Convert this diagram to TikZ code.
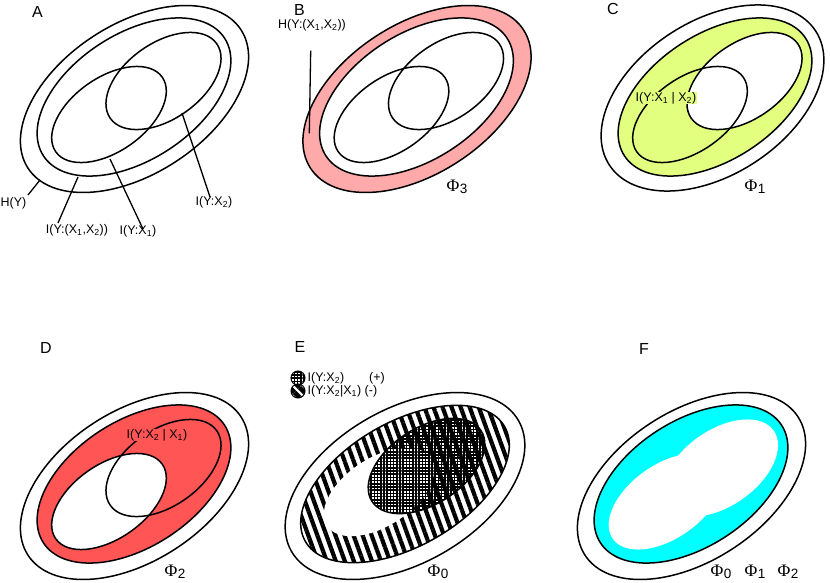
\documentclass[tikz,border=0pt]{standalone}
\usepackage{fontspec}
\setmainfont{Liberation Sans}
\newfontfamily\phifont{Liberation Serif}
\usetikzlibrary{patterns.meta}
\definecolor{pinkB}{RGB}{255,170,170}
\definecolor{yelC}{RGB}{226,255,128}
\definecolor{redD}{RGB}{255,85,85}
\definecolor{cyanF}{RGB}{0,255,255}
\newcommand\phil[1]{{\phifont\fontsize{17.5}{17.5}\selectfont Φ}\kern0.3pt\raisebox{-2.5pt}{\fontsize{13.5}{13.5}\selectfont #1}}
\newcommand\sbs[1]{\textsubscript{#1}}
\newcommand\ellO[1]{\path[#1,shift={(134.5,99)},rotate=33] (0,0) ellipse[x radius=127,y radius=75];}
\newcommand\ellOc[1]{\path[#1,shift={(131.5,98)},rotate=33] (0,0) ellipse[x radius=123,y radius=77];}
\newcommand\ellS[1]{\path[#1,shift={(134,97)},rotate=33] (0,0) ellipse[x radius=108,y radius=63];}
\newcommand\ellP[1]{\path[#1,shift={(109,114.5)},rotate=35] (0,0) ellipse[x radius=65,y radius=37];}
\newcommand\ellQ[1]{\path[#1,shift={(163.5,81)},rotate=35] (0,0) ellipse[x radius=65,y radius=38];}
\newcommand\ellOE[1]{\path[#1,shift={(134,99)},rotate=30] (0,0) ellipse[x radius=131,y radius=77];}
\newcommand\ellSE[1]{\path[#1,shift={(134,97)},rotate=30] (0,0) ellipse[x radius=115,y radius=62];}
\newcommand\ellPE[1]{\path[#1,shift={(108,105)},rotate=33] (0,0) ellipse[x radius=62,y radius=34];}
\newcommand\ellQE[1]{\path[#1,shift={(155.5,79)},rotate=33] (0,0) ellipse[x radius=65,y radius=38];}
\tikzset{
  ln/.style={draw=black,line width=1.5pt},
  lbl/.style={font=\fontsize{12.5}{14}\selectfont, inner sep=0.5pt},
  lead/.style={line width=1.3pt},
  letter/.style={font=\fontsize{16}{18}\selectfont, inner sep=0pt},
  philbl/.style={inner sep=0pt},
  stripes/.style={pattern={Lines[angle=110,distance=8.5pt,line width=4.2pt]}},
  xhatch/.style={pattern={Hatch[angle=0,distance=3.2pt,line width=1.6pt]}}
}
\begin{document}
\begin{tikzpicture}[x=1pt,y=-1pt]
\useasboundingbox (0,0) rectangle (830,583);
\fill[white] (0,0) rectangle (830,583);

% ---------- Panel A ----------
\begin{scope}
  \ellO{ln}\ellS{ln}\ellP{ln}\ellQ{ln}
\end{scope}
\node[letter] (lA) at (37.5,11.5) {A};
\node[lbl] (hy) at (13.5,203) {H(Y)};
\node[lbl] (iyx12) at (77,230) {I(Y:(X\sbs{1},X\sbs{2}))};
\node[lbl] (iyx1) at (138,231) {I(Y:X\sbs{1})};
\node[lbl] (iyx2) at (214,202) {I(Y:X\sbs{2})};
\coordinate (hyS) at (28,195);  \coordinate (hyE) at (40,180);
\coordinate (x12S) at (58,223); \coordinate (x12E) at (78,177);
\coordinate (x1S) at (143,229); \coordinate (x1E) at (110,159);
\coordinate (x2S) at (210,197); \coordinate (x2E) at (182,113);
\draw[lead] (hyS) -- (hyE);
\draw[lead] (x12S) -- (x12E);
\draw[lead] (x1S) -- (x1E);
\draw[lead] (x2S) -- (x2E);

% ---------- Panel B ----------
\begin{scope}[shift={(282.5,0)}]
  \ellO{fill=pinkB}\ellS{fill=white}
  \ellO{ln}\ellS{ln}\ellP{ln}\ellQ{ln}
\end{scope}
\node[letter] (lB) at (299.5,9.5) {B};
\node[lbl] (hyx12) at (312,25) {H(Y:(X\sbs{1},X\sbs{2}))};
\coordinate (bS) at (310.7,50.7); \coordinate (bE) at (309.3,133.3);
\draw[lead] (bS) -- (bE);
\node[philbl] (phi3) at (457,187) {\phil{3}};

% ---------- Panel C ----------
\begin{scope}[shift={(581,0)}]
  \ellS{fill=yelC}\ellQ{fill=white}
  \ellOc{ln}\ellS{ln}\ellP{ln}\ellQ{ln}
\end{scope}
\node[letter] (lC) at (613,9) {C};
\node[lbl,fill=yelC] (cl) at (666,98) {I(Y:X\sbs{1} | X\sbs{2})};
\node[philbl] (phi1) at (755,187) {\phil{1}};

% ---------- Panel D ----------
\begin{scope}[shift={(0,387)}]
  \ellS{fill=redD}\ellP{fill=white}
  \ellO{ln}\ellS{ln}\ellP{ln}\ellQ{ln}
\end{scope}
\node[letter] (lD) at (46,348) {D};
\node[lbl,fill=redD] (dl) at (157,435) {I(Y:X\sbs{2} | X\sbs{1})};
\node[philbl] (phi2) at (175,572) {\phil{2}};

% ---------- Panel E ----------
\begin{scope}[shift={(271,387)}]
  \begin{scope}
    \ellSE{clip}
    \fill[stripes] (0,0) rectangle (270,200);
  \end{scope}
  \ellPE{fill=white}
  \begin{scope}
    \ellQE{clip}
    \fill[xhatch] (0,0) rectangle (270,200);
  \end{scope}
  \ellOE{ln}\ellSE{ln}\ellQE{ln}
\end{scope}
\node[letter] (lE) at (300,347) {E};
\node[circle,draw,line width=1pt,minimum size=14pt,inner sep=0pt,xhatch] (ic1) at (298,378) {};
\node[circle,draw,line width=1pt,minimum size=14pt,inner sep=0pt,pattern={Lines[angle=135,distance=7pt,line width=4.5pt]}] (ic2) at (298,391) {};
\node[lbl,anchor=west] (leg1) at (307,378) {I(Y:X\sbs{2})};
\node[lbl] (leg1b) at (377,378) {(+)};
\node[lbl,anchor=west] (leg2) at (307,391) {I(Y:X\sbs{2}|X\sbs{1}) (-)};
\node[philbl] (phi0e) at (438,572) {\phil{0}};

% ---------- Panel F ----------
\begin{scope}[shift={(557,387)}]
  \ellS{fill=cyanF}\ellP{fill=white}\ellQ{fill=white}
  \ellO{ln}\ellS{ln}
\end{scope}
\node[letter] (lF) at (644,349) {F};
\node[philbl] (phi0f) at (721,572) {\phil{0}};
\node[philbl] (phi1f) at (755,572) {\phil{1}};
\node[philbl] (phi2f) at (788,572) {\phil{2}};
\end{tikzpicture}
\end{document}
